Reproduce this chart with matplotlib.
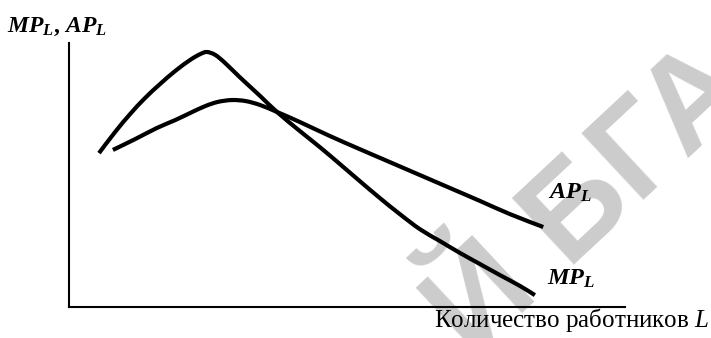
import matplotlib
matplotlib.use("Agg")
import matplotlib.pyplot as plt
from matplotlib.path import Path
from matplotlib.patches import PathPatch

plt.rcParams['mathtext.fontset'] = 'custom'
plt.rcParams['mathtext.rm'] = 'Liberation Serif'
plt.rcParams['mathtext.it'] = 'Liberation Serif:italic'
plt.rcParams['mathtext.bf'] = 'Liberation Serif:bold'
plt.rcParams['mathtext.bfit'] = 'Liberation Serif:bold:italic'

# Data (labour L on x, product per worker on y; arbitrary units)
mp_x = [0.54, 0.83, 1.10, 1.37, 1.64, 1.91, 2.18, 2.36, 2.48, 2.63, 2.81, 3.07,
        3.44, 3.74, 4.15, 4.51, 4.87, 5.23, 5.59, 5.95, 6.31, 6.67, 7.03, 7.39,
        7.75, 8.11, 8.38]
mp_y = [5.83, 6.63, 7.31, 7.92, 8.45, 8.94, 9.36, 9.58, 9.66, 9.55, 9.24, 8.71,
        7.99, 7.39, 6.67, 6.06, 5.42, 4.77, 4.13, 3.52, 2.95, 2.50, 2.05, 1.63,
        1.21, 0.80, 0.45]
ap_x = [0.79, 1.19, 1.58, 1.91, 2.18, 2.45, 2.68, 2.93, 3.18, 3.44, 3.74, 4.15,
        4.69, 5.23, 5.77, 6.31, 6.85, 7.39, 7.93, 8.53]
ap_y = [5.95, 6.36, 6.78, 7.08, 7.35, 7.61, 7.77, 7.84, 7.80, 7.65, 7.39, 7.01,
        6.48, 5.98, 5.49, 5.00, 4.51, 4.02, 3.52, 3.03]

y_label = r"$\mathbfit{MP}_{\mathbfit{L}}$, $\mathbfit{AP}_{\mathbfit{L}}$"
x_label = "Количество работников $L$"
ap_label = r"$\mathbfit{AP}_{\mathbfit{L}}$"
mp_label = r"$\mathbfit{MP}_{\mathbfit{L}}$"
watermark = "Й БГА"


def smooth_path(xs, ys):
    """Smooth Bezier path passing through the given points (Catmull-Rom)."""
    pts = list(zip(xs, ys))
    verts = [pts[0]]
    codes = [Path.MOVETO]
    n = len(pts)
    for i in range(n - 1):
        p0 = pts[i - 1] if i > 0 else pts[i]
        p1 = pts[i]
        p2 = pts[i + 1]
        p3 = pts[i + 2] if i + 2 < n else pts[i + 1]
        c1 = (p1[0] + (p2[0] - p0[0]) / 6, p1[1] + (p2[1] - p0[1]) / 6)
        c2 = (p2[0] - (p3[0] - p1[0]) / 6, p2[1] - (p3[1] - p1[1]) / 6)
        verts += [c1, c2, p2]
        codes += [Path.CURVE4] * 3
    return Path(verts, codes)


fig = plt.figure(figsize=(7.11, 3.38), dpi=100)
fig.patch.set_facecolor('white')

# watermark
fig.text(0.83, 0.40, watermark, rotation=43, rotation_mode='anchor',
         ha='center', va='center', fontsize=95, fontweight='bold',
         family='Liberation Sans', color='#cccccc', zorder=0)

ax = fig.add_axes([0.0970, 0.0917, 0.782, 0.781])
ax.set_zorder(2)
ax.patch.set_alpha(0)
ax.set_xlim(0, 10)
ax.set_ylim(0, 10)
for s in ['top', 'right']:
    ax.spines[s].set_visible(False)
for s in ['left', 'bottom']:
    ax.spines[s].set_linewidth(1.5)
    ax.spines[s].set_color('black')
ax.set_xticks([])
ax.set_yticks([])

for xs, ys in [(mp_x, mp_y), (ap_x, ap_y)]:
    ax.add_patch(PathPatch(smooth_path(xs, ys), facecolor='none', edgecolor='black',
                           lw=3.0, capstyle='butt', joinstyle='round'))

fig.text(0.010, 0.905, y_label, fontsize=17, fontweight='bold', family='Liberation Serif',
         ha='left', va='baseline', zorder=3)
fig.text(0.998, 0.032, x_label, fontsize=18, family='Liberation Serif',
         ha='right', va='baseline', zorder=3)
ax.text(8.61, 4.09, ap_label, fontsize=17.5, ha='left', va='baseline')
ax.text(8.60, 0.83, mp_label, fontsize=17.5, ha='left', va='baseline')

fig.savefig('out.png', dpi=100)
